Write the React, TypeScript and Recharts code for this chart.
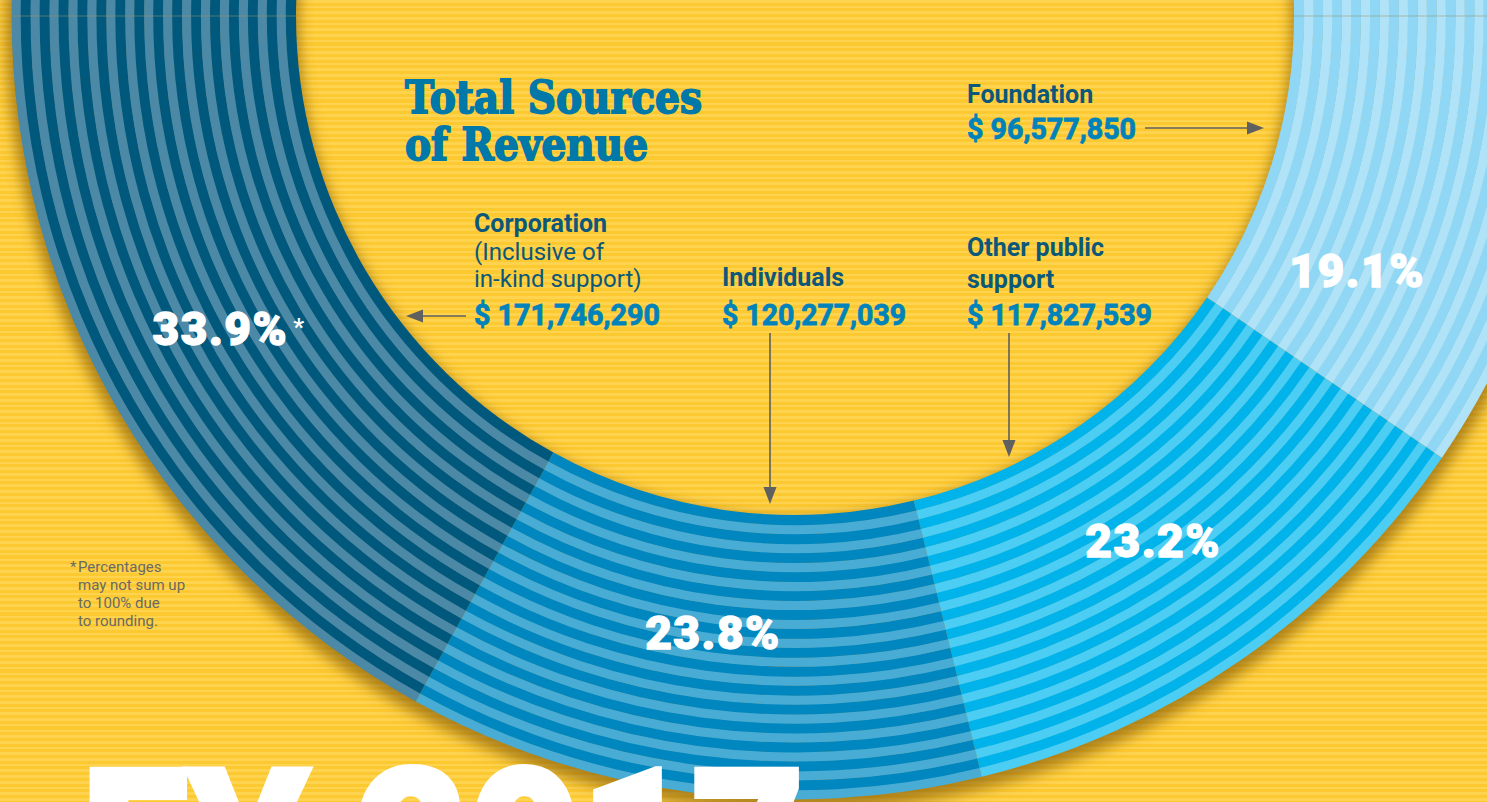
import { PieChart, Pie, Cell } from 'recharts';

const W = 1487;
const H = 802;

// revenue sources, in the order they run round the ring (left -> bottom -> right)
const categories = ['Corporation', 'Individuals', 'Other public support', 'Foundation'];
const revenue = [171746290, 120277039, 117827539, 96577850];
const pctLabels = ['33.9%', '23.8%', '23.2%', '19.1%'];
const amountLabels = ['$ 171,746,290', '$ 120,277,039', '$ 117,827,539', '$ 96,577,850'];

const darkStripe = ['#00587d', '#0087bf', '#00b4eb', '#8fd7f4'];
const lightStripe = ['#4b89a7', '#48acd4', '#4ccdf3', '#b1e3f8'];

const CX = 795;
const CY = 16;
const OUTER = 783;
const INNER = 499;
const PAIRS = 15;
const RADIAN = Math.PI / 180;

const step = (OUTER - INNER) / PAIRS;
const rings: { inner: number; outer: number; light: boolean }[] = [];
for (let p = 0; p < PAIRS; p++) {
  const top = OUTER - p * step;
  const mid = top - step * 0.48;
  rings.push({ inner: mid, outer: top, light: true });
  rings.push({ inner: top - step, outer: mid, light: false });
}

// label nudges (angle offset, radius) so the numbers sit where the print has them
const pctPlace = [
  { da: -2, r: 654 },
  { da: 0, r: 622 },
  { da: -0.4, r: 635 },
  { da: -7.2, r: 617 },
];

const renderPct = (props: any) => {
  const { cx, cy, midAngle, index } = props;
  const pl = pctPlace[index];
  const a = (midAngle + pl.da) * RADIAN;
  const x = cx + pl.r * Math.cos(-a);
  const y = cy + pl.r * Math.sin(-a);
  const fs = 46;
  return (
    <g key={`pct-${index}`}>
      <text
        x={x}
        y={y + fs * 0.355}
        textAnchor="middle"
        fill="#ffffff"
        stroke="#ffffff"
        strokeWidth={1.3}
        fontFamily="Roboto, 'Liberation Sans', sans-serif"
        fontWeight={900}
        fontSize={fs}
        letterSpacing={1.5}
      >
        {pctLabels[index]}
      </text>
      {index === 0 && (
        <text x={x + 73} y={y + 7} fill="#ffffff" fontFamily="Roboto, sans-serif" fontWeight={700} fontSize={24}>
          *
        </text>
      )}
    </g>
  );
};

function Arrow({ x1, y1, x2, y2 }: { x1: number; y1: number; x2: number; y2: number }) {
  const ang = Math.atan2(y2 - y1, x2 - x1);
  const len = 17;
  const half = 6.5;
  const bx = x2 - len * Math.cos(ang);
  const by = y2 - len * Math.sin(ang);
  const px = -Math.sin(ang) * half;
  const py = Math.cos(ang) * half;
  return (
    <g>
      <line x1={x1} y1={y1} x2={bx} y2={by} stroke="#5f6060" strokeWidth={1.6} />
      <polygon points={`${x2},${y2} ${bx + px},${by + py} ${bx - px},${by - py}`} fill="#5f6060" />
    </g>
  );
}

const nameStyle = {
  fontFamily: "Roboto, 'Liberation Sans', sans-serif",
  fontWeight: 700,
  fontSize: 25,
  fill: '#0b587a',
};
const subStyle = {
  fontFamily: "Roboto, 'Liberation Sans', sans-serif",
  fontWeight: 400,
  fontSize: 24,
  fill: '#0b587a',
};
const amountStyle = {
  fontFamily: "Roboto, 'Liberation Sans', sans-serif",
  fontWeight: 700,
  fontSize: 29,
  fill: '#0083bb',
  stroke: '#0083bb',
  strokeWidth: 0.8,
};
const noteStyle = {
  fontFamily: "Roboto, 'Liberation Sans', sans-serif",
  fontWeight: 400,
  fontSize: 15,
  fill: '#6a6a62',
};
const titleStyle = {
  fontFamily: "'DejaVu Serif', serif",
  fontWeight: 700,
  fontSize: 44,
  fill: '#0078a8',
  stroke: '#0078a8',
  strokeWidth: 1.8,
};

export default function App() {
  const data = categories.map((name, i) => ({ name, value: revenue[i] }));
  const capLeft = [{ name: categories[0], value: 1 }];
  const capRight = [{ name: categories[3], value: 1 }];

  return (
    <div
      style={{
        position: 'absolute',
        left: 0,
        top: 0,
        width: W,
        height: H,
        overflow: 'hidden',
        background:
          'repeating-linear-gradient(to bottom, #fed350 0px, #fed350 2.6px, #fdc930 2.6px, #fdc930 5.7px)',
      }}
    >
      <style>{`.ring-shadow path { filter: url(#ringBlur); }`}</style>
      <PieChart width={W} height={H} margin={{ top: 0, right: 0, bottom: 0, left: 0 }} style={{ position: 'absolute', left: 0, top: 0 }}>
        <Pie
          data={[{ name: 'shadow', value: 1 }]}
          dataKey="value"
          cx={CX}
          cy={CY + 6}
          innerRadius={INNER - 3}
          outerRadius={OUTER + 6}
          startAngle={176}
          endAngle={364}
          fill="rgba(120,78,0,0.6)"
          stroke="none"
          className="ring-shadow"
          isAnimationActive={false}
        />
        {rings.map((rg, k) => (
          <Pie
            key={`ring-${k}`}
            data={data}
            dataKey="value"
            cx={CX}
            cy={CY}
            innerRadius={rg.inner}
            outerRadius={rg.outer + 0.4}
            startAngle={180}
            endAngle={360}
            stroke="none"
            isAnimationActive={false}
          >
            {data.map((d, i) => (
              <Cell key={d.name} fill={rg.light ? lightStripe[i] : darkStripe[i]} />
            ))}
          </Pie>
        ))}
        {rings.map((rg, k) => (
          <Pie
            key={`capl-${k}`}
            data={capLeft}
            dataKey="value"
            cx={CX}
            cy={CY}
            innerRadius={rg.inner}
            outerRadius={rg.outer + 0.4}
            startAngle={177.5}
            endAngle={180.2}
            stroke="none"
            fill={rg.light ? lightStripe[0] : darkStripe[0]}
            isAnimationActive={false}
          />
        ))}
        {rings.map((rg, k) => (
          <Pie
            key={`capr-${k}`}
            data={capRight}
            dataKey="value"
            cx={CX}
            cy={CY}
            innerRadius={rg.inner}
            outerRadius={rg.outer + 0.4}
            startAngle={359.8}
            endAngle={362.5}
            stroke="none"
            fill={rg.light ? lightStripe[3] : darkStripe[3]}
            isAnimationActive={false}
          />
        ))}
        <Pie
          data={data}
          dataKey="value"
          cx={CX}
          cy={CY}
          innerRadius={INNER}
          outerRadius={OUTER}
          startAngle={180}
          endAngle={360}
          fill="none"
          stroke="none"
          label={renderPct}
          labelLine={false}
          isAnimationActive={false}
        />
      </PieChart>

      <svg width={W} height={H} style={{ position: 'absolute', left: 0, top: 0, pointerEvents: 'none' }}>
        <defs>
          <filter id="ringBlur" x="-10%" y="-10%" width="120%" height="120%">
            <feGaussianBlur stdDeviation="7" />
          </filter>
        </defs>

        {/* faint centre line */}
        <line x1={12} y1={CY} x2={297} y2={CY} stroke="rgba(150,150,110,0.55)" strokeWidth={1} />
        <line x1={1293} y1={CY} x2={W} y2={CY} stroke="rgba(150,150,110,0.55)" strokeWidth={1} />

        {/* title */}
        <text x={405} y={113} style={titleStyle} textLength={297} lengthAdjust="spacingAndGlyphs">
          Total Sources
        </text>
        <text x={405} y={160} style={titleStyle} textLength={243} lengthAdjust="spacingAndGlyphs">
          of Revenue
        </text>

        {/* Corporation */}
        <text x={474} y={232} style={nameStyle}>Corporation</text>
        <text x={474} y={260} style={subStyle}>(Inclusive of</text>
        <text x={474} y={287} style={subStyle}>in-kind support)</text>
        <text x={474} y={325} style={amountStyle} textLength={186} lengthAdjust="spacingAndGlyphs">{amountLabels[0]}</text>
        <Arrow x1={466} y1={316} x2={406} y2={316} />

        {/* Individuals */}
        <text x={722} y={286} style={nameStyle}>Individuals</text>
        <text x={722} y={325} style={amountStyle} textLength={184} lengthAdjust="spacingAndGlyphs">{amountLabels[1]}</text>
        <Arrow x1={770} y1={333} x2={770} y2={504} />

        {/* Other public support */}
        <text x={967} y={256} style={nameStyle}>Other public</text>
        <text x={967} y={288} style={nameStyle}>support</text>
        <text x={967} y={325} style={amountStyle} textLength={185} lengthAdjust="spacingAndGlyphs">{amountLabels[2]}</text>
        <Arrow x1={1009} y1={333} x2={1009} y2={457} />

        {/* Foundation */}
        <text x={967} y={103} style={nameStyle}>Foundation</text>
        <text x={967} y={139} style={amountStyle} textLength={169} lengthAdjust="spacingAndGlyphs">{amountLabels[3]}</text>
        <Arrow x1={1145} y1={128} x2={1264} y2={128} />

        {/* footnote */}
        <text x={70} y={572} style={noteStyle}>*</text>
        <text x={78} y={572} style={noteStyle}>Percentages</text>
        <text x={78} y={590} style={noteStyle}>may not sum up</text>
        <text x={78} y={608} style={noteStyle}>to 100% due</text>
        <text x={78} y={626} style={noteStyle}>to rounding.</text>

        {/* big year, cut off by the page edge as in the print */}
        <text x={82} y={916} fontFamily="Roboto, 'Liberation Sans', sans-serif" fontWeight={900} fontSize={206} fill="#ffffff" stroke="#ffffff" strokeWidth={6} textLength={722} lengthAdjust="spacingAndGlyphs">
          FY 2017
        </text>
      </svg>
    </div>
  );
}
